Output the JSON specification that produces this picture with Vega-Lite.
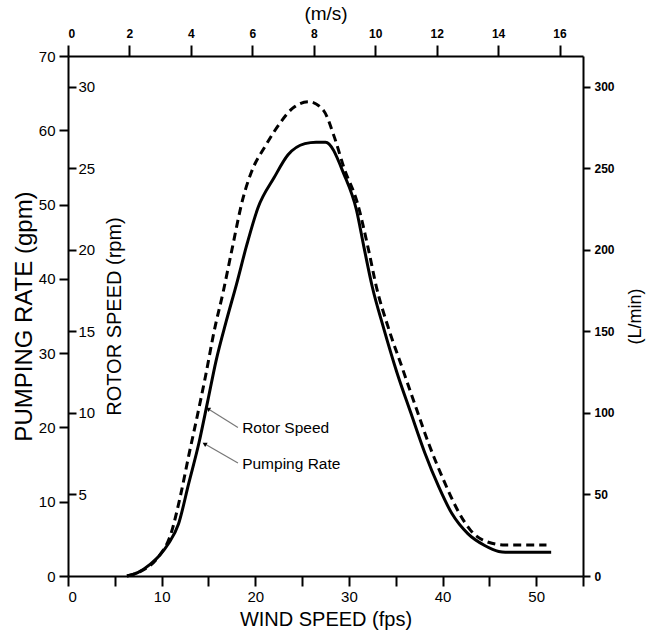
{
  "$schema": "https://vega.github.io/schema/vega-lite/v6.json",
  "width": 515,
  "height": 520,
  "autosize": {"type": "none"},
  "padding": {"left": 68, "top": 56, "right": 73, "bottom": 58},
  "background": "white",
  "config": {
    "view": {"stroke": null},
    "font": "Liberation Sans",
    "axis": {
      "grid": false,
      "domainColor": "black",
      "domainWidth": 2,
      "tickColor": "black",
      "tickWidth": 2,
      "labelColor": "black",
      "titleColor": "black",
      "titleFontWeight": "normal",
      "labelFont": "Liberation Sans",
      "titleFont": "Liberation Sans"
    }
  },
  "datasets": {
    "pump": [
      {"fps": 6.3, "gpm": 0}, {"fps": 7.5, "gpm": 0.5}, {"fps": 8.8, "gpm": 1.6}, {"fps": 9.8, "gpm": 2.8},
      {"fps": 10.7, "gpm": 4.3}, {"fps": 11.8, "gpm": 7.0}, {"fps": 12.9, "gpm": 12.5}, {"fps": 14.0, "gpm": 18.0},
      {"fps": 14.9, "gpm": 23.4}, {"fps": 15.8, "gpm": 28.9}, {"fps": 16.9, "gpm": 34.3}, {"fps": 18.0, "gpm": 39.3},
      {"fps": 19.1, "gpm": 44.6}, {"fps": 20.3, "gpm": 49.6}, {"fps": 22.0, "gpm": 53.6}, {"fps": 23.5, "gpm": 56.7},
      {"fps": 25.3, "gpm": 58.2}, {"fps": 26.5, "gpm": 58.4}, {"fps": 27.5, "gpm": 58.4}, {"fps": 29.5, "gpm": 54.0},
      {"fps": 30.8, "gpm": 49.3}, {"fps": 31.6, "gpm": 44.3}, {"fps": 32.5, "gpm": 38.9}, {"fps": 33.7, "gpm": 33.4},
      {"fps": 35.1, "gpm": 27.5}, {"fps": 36.6, "gpm": 22.0}, {"fps": 38.1, "gpm": 16.6}, {"fps": 39.6, "gpm": 12.0},
      {"fps": 41.0, "gpm": 8.4}, {"fps": 42.7, "gpm": 5.7}, {"fps": 44.5, "gpm": 4.1}, {"fps": 46.0, "gpm": 3.3},
      {"fps": 46.7, "gpm": 3.2}, {"fps": 51.6, "gpm": 3.2}
    ],
    "rotor": [
      {"fps": 6.3, "rpm": 0}, {"fps": 7.7, "rpm": 0.27}, {"fps": 9.6, "rpm": 1.14}, {"fps": 11.0, "rpm": 2.6},
      {"fps": 12.0, "rpm": 4.9}, {"fps": 12.9, "rpm": 7.4}, {"fps": 13.8, "rpm": 9.8}, {"fps": 14.7, "rpm": 12.3},
      {"fps": 15.6, "rpm": 15.0}, {"fps": 16.6, "rpm": 17.5}, {"fps": 17.5, "rpm": 20.0}, {"fps": 18.7, "rpm": 23.2},
      {"fps": 19.6, "rpm": 24.8}, {"fps": 21.1, "rpm": 26.4}, {"fps": 22.6, "rpm": 27.75}, {"fps": 24.0, "rpm": 28.7},
      {"fps": 25.7, "rpm": 29.1}, {"fps": 27.3, "rpm": 28.55}, {"fps": 28.4, "rpm": 27.0}, {"fps": 29.5, "rpm": 25.0},
      {"fps": 30.9, "rpm": 22.9}, {"fps": 32.1, "rpm": 20.0}, {"fps": 32.95, "rpm": 17.7}, {"fps": 34.2, "rpm": 15.25},
      {"fps": 35.7, "rpm": 12.76}, {"fps": 37.2, "rpm": 10.27}, {"fps": 38.6, "rpm": 8.0}, {"fps": 40.1, "rpm": 5.9},
      {"fps": 41.6, "rpm": 4.05}, {"fps": 43.0, "rpm": 2.8}, {"fps": 44.9, "rpm": 2.07}, {"fps": 46.7, "rpm": 1.9},
      {"fps": 51.1, "rpm": 1.9}
    ],
    "scales": [{"ms": 0, "lmin": 0}],
    "notes": [
      {"label": "Rotor Speed", "fps": 18.6, "gpm": 19.9},
      {"label": "Pumping Rate", "fps": 18.6, "gpm": 15.1}
    ],
    "leaders": [
      {"fps": 14.95, "gpm": 22.5, "fps2": 18.15, "gpm2": 20.0, "angle": 301},
      {"fps": 14.58, "gpm": 17.8, "fps2": 18.15, "gpm2": 15.2, "angle": 300}
    ]
  },
  "layer": [
    {
      "data": {"name": "pump"},
      "mark": {"type": "line", "color": "black", "strokeWidth": 3, "interpolate": "monotone"},
      "encoding": {
        "x": {
          "field": "fps", "type": "quantitative",
          "scale": {"domain": [0, 55], "nice": false},
          "axis": {
            "orient": "bottom", "values": [0, 5, 10, 15, 20, 25, 30, 35, 40, 45, 50, 55],
            "labelExpr": "datum.value % 10 == 0 && datum.value < 55 ? datum.label : ''",
            "tickSize": 10, "labelPadding": 3, "labelFontSize": 15,
            "title": "WIND SPEED (fps)", "titleFontSize": 20, "titlePadding": 5
          }
        },
        "y": {
          "field": "gpm", "type": "quantitative",
          "scale": {"domain": [0, 70], "nice": false},
          "axis": {
            "orient": "left", "values": [0, 10, 20, 30, 40, 50, 60, 70],
            "tickSize": 9, "labelPadding": 4, "labelFontSize": 15,
            "title": "PUMPING RATE (gpm)", "titleFontSize": 24, "titlePadding": 2
          }
        }
      }
    },
    {
      "data": {"name": "rotor"},
      "mark": {"type": "line", "color": "black", "strokeWidth": 3, "strokeDash": [8, 5], "interpolate": "monotone"},
      "encoding": {
        "x": {"field": "fps", "type": "quantitative", "scale": {"domain": [0, 55], "nice": false}, "axis": null},
        "y": {
          "field": "rpm", "type": "quantitative",
          "scale": {"domain": [0, 31.9], "nice": false},
          "axis": {
            "orient": "right", "offset": -515, "domain": false,
            "values": [5, 10, 15, 20, 25, 30],
            "tickSize": 8, "labelPadding": 2, "labelFontSize": 15,
            "title": "ROTOR SPEED (rpm)", "titleAngle": 270, "titleBaseline": "top",
            "titleFontSize": 20, "titlePadding": 10
          }
        }
      }
    },
    {
      "data": {"name": "scales"},
      "mark": {"type": "point", "opacity": 0},
      "encoding": {
        "x": {
          "field": "ms", "type": "quantitative",
          "scale": {"domain": [0, 16.764], "nice": false},
          "axis": {
            "orient": "top", "values": [0, 2, 4, 6, 8, 10, 12, 14, 16],
            "tickSize": 11, "labelPadding": 5, "labelFontSize": 12, "labelFontWeight": "bold",
            "title": "(m/s)", "titleFontSize": 19, "titlePadding": 4
          }
        },
        "y": {
          "field": "lmin", "type": "quantitative",
          "scale": {"domain": [0, 319], "nice": false},
          "axis": {
            "orient": "right", "values": [0, 50, 100, 150, 200, 250, 300],
            "tickSize": 7, "labelPadding": 4, "labelFontSize": 12, "labelFontWeight": "bold",
            "title": "(L/min)", "titleAngle": 270, "titleBaseline": "top",
            "titleFontSize": 18, "titlePadding": 12
          }
        }
      }
    },
    {
      "data": {"name": "leaders"},
      "mark": {"type": "rule", "color": "#777777", "strokeWidth": 1.2},
      "encoding": {
        "x": {"field": "fps", "type": "quantitative", "scale": {"domain": [0, 55], "nice": false}, "axis": null},
        "y": {"field": "gpm", "type": "quantitative", "scale": {"domain": [0, 70], "nice": false}, "axis": null},
        "x2": {"field": "fps2"},
        "y2": {"field": "gpm2"}
      }
    },
    {
      "data": {"name": "leaders"},
      "mark": {"type": "point", "shape": "triangle-up", "filled": true, "color": "black", "size": 25, "opacity": 1},
      "encoding": {
        "x": {"field": "fps", "type": "quantitative", "scale": {"domain": [0, 55], "nice": false}, "axis": null},
        "y": {"field": "gpm", "type": "quantitative", "scale": {"domain": [0, 70], "nice": false}, "axis": null},
        "angle": {"field": "angle", "type": "quantitative", "scale": null}
      }
    },
    {
      "data": {"name": "notes"},
      "mark": {"type": "text", "align": "left", "baseline": "middle", "fontSize": 15.5, "color": "black", "font": "Liberation Sans"},
      "encoding": {
        "x": {"field": "fps", "type": "quantitative", "scale": {"domain": [0, 55], "nice": false}, "axis": null},
        "y": {"field": "gpm", "type": "quantitative", "scale": {"domain": [0, 70], "nice": false}, "axis": null},
        "text": {"field": "label"}
      }
    }
  ],
  "resolve": {"scale": {"x": "independent", "y": "independent"}}
}
